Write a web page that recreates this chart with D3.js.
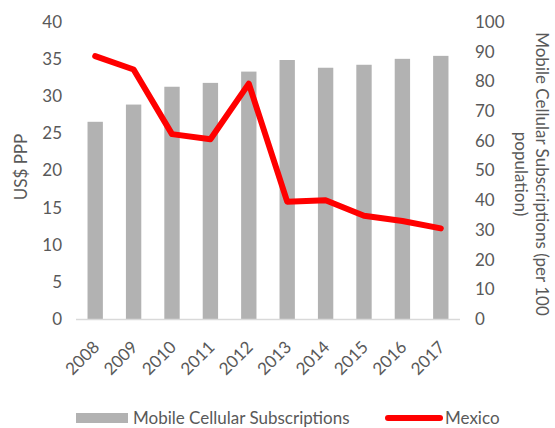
<!DOCTYPE html>
<html lang="en">
  <head>
    <meta charset="UTF-8" />
    <title>Mobile subscriptions vs Mexico</title>
    <script src="https://cdn.jsdelivr.net/npm/d3@7"></script>
    <style>
      body { margin: 0; background: #fff; }
      svg text { font-family: Lato, "Open Sans", sans-serif; fill: #595959; }
      .domain { display: none; }
      .tick line { display: none; }
    </style>
  </head>
  <body>
    <svg width="555" height="428"></svg>
    <script>
      const years = ['2008', '2009', '2010', '2011', '2012', '2013', '2014', '2015', '2016', '2017'];
      // Mobile Cellular Subscriptions (per 100 population), right axis
      const subscriptions = [66.4, 72.2, 78.2, 79.5, 83.3, 87.2, 84.6, 85.6, 87.6, 88.6];
      // Mexico, US$ PPP, left axis
      const mexico = [35.4, 33.6, 24.9, 24.2, 31.7, 15.8, 16.0, 13.9, 13.2, 12.2];
      const leftTicks = [0, 5, 10, 15, 20, 25, 30, 35, 40];
      const rightTicks = [0, 10, 20, 30, 40, 50, 60, 70, 80, 90, 100];

      const svg = d3.select('svg');
      const fs = 17;
      const m = { left: 76, right: 460, top: 22, bottom: 319 };

      const x = d3.scaleBand().domain(years).range([m.left, m.right]).paddingInner(0.6).paddingOuter(0.3);
      const yL = d3.scaleLinear().domain([0, 40]).range([m.bottom, m.top]);
      const yR = d3.scaleLinear().domain([0, 100]).range([m.bottom, m.top]);

      // bars
      svg.append('g')
        .selectAll('rect')
        .data(years)
        .enter()
        .append('rect')
        .attr('x', (d) => x(d))
        .attr('width', x.bandwidth())
        .attr('y', (d, i) => yR(subscriptions[i]))
        .attr('height', (d, i) => yR(0) - yR(subscriptions[i]))
        .attr('fill', '#b2b2b2');

      // baseline
      svg.append('line')
        .attr('x1', m.left).attr('x2', m.right)
        .attr('y1', m.bottom + 0.5).attr('y2', m.bottom + 0.5)
        .attr('stroke', '#d9d9d9').attr('stroke-width', 1.5);

      // line
      const line = d3.line()
        .x((d, i) => x(years[i]) + x.bandwidth() / 2)
        .y((d) => yL(d));
      svg.append('path')
        .datum(mexico)
        .attr('d', line)
        .attr('fill', 'none')
        .attr('stroke', '#ff0000')
        .attr('stroke-width', 6)
        .attr('stroke-linecap', 'round')
        .attr('stroke-linejoin', 'round');

      // axes
      svg.append('g')
        .attr('transform', 'translate(' + (m.left - 6) + ',0)')
        .call(d3.axisLeft(yL).tickValues(leftTicks).tickSize(0).tickPadding(8))
        .selectAll('text').style('font-size', fs + 'px').attr('fill', '#595959');

      svg.append('g')
        .attr('transform', 'translate(' + (m.right + 7) + ',0)')
        .call(d3.axisRight(yR).tickValues(rightTicks).tickSize(0).tickPadding(8))
        .selectAll('text').style('font-size', fs + 'px').attr('fill', '#595959');

      const xa = svg.append('g')
        .attr('transform', 'translate(0,' + m.bottom + ')')
        .call(d3.axisBottom(x).tickSize(0).tickPadding(0));
      xa.selectAll('text')
        .style('font-size', fs + 'px')
        .attr('fill', '#595959')
        .attr('text-anchor', 'end')
        .attr('dy', '0.35em')
        .attr('transform', 'translate(1,25) rotate(-45)');

      // axis titles
      svg.append('text')
        .attr('transform', 'translate(27,167) rotate(-90)')
        .attr('text-anchor', 'middle')
        .style('font-size', fs + 'px')
        .text('US$ PPP');

      const rt = svg.append('text')
        .attr('transform', 'translate(536,174) rotate(90)')
        .attr('text-anchor', 'middle')
        .style('font-size', fs + 'px');
      rt.append('tspan').attr('x', 0).attr('dy', 0).text('Mobile Cellular Subscriptions (per 100');
      rt.append('tspan').attr('x', 0).attr('dy', '1.25em').text('population)');

      // legend
      const lg = svg.append('g');
      lg.append('rect')
        .attr('x', 76).attr('y', 413).attr('width', 52).attr('height', 10)
        .attr('fill', '#b2b2b2');
      lg.append('text')
        .attr('x', 133).attr('y', 418).attr('dy', '0.35em')
        .style('font-size', fs + 'px')
        .text('Mobile Cellular Subscriptions');
      lg.append('line')
        .attr('x1', 388).attr('x2', 440).attr('y1', 418).attr('y2', 418)
        .attr('stroke', '#ff0000').attr('stroke-width', 6).attr('stroke-linecap', 'round');
      lg.append('text')
        .attr('x', 445).attr('y', 418).attr('dy', '0.35em')
        .style('font-size', fs + 'px')
        .text('Mexico');
    </script>
  </body>
</html>
